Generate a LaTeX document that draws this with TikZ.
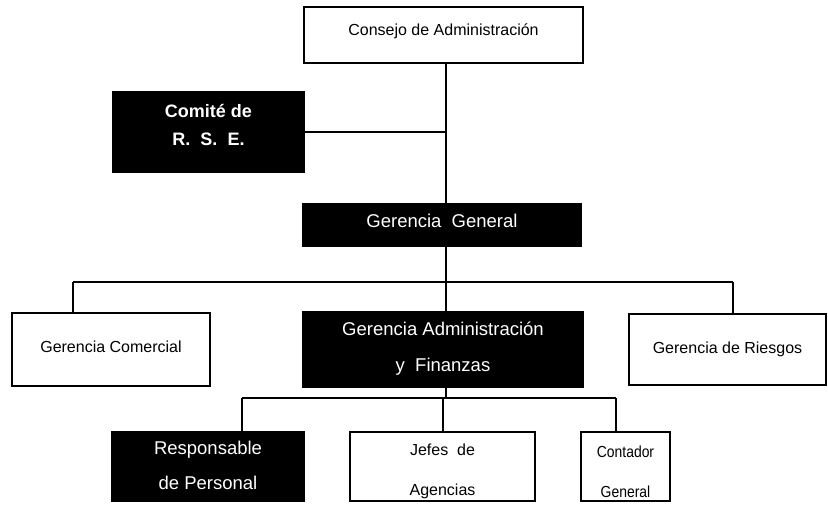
\documentclass[tikz,border=0pt]{standalone}
\usepackage{fontspec}
\setmainfont{Liberation Sans}
\newfontfamily\narrowfont[FakeStretch=0.87]{Liberation Sans}
\begin{document}
\begin{tikzpicture}[x=1pt,y=-1pt,
  box/.style={draw=black, line width=2pt, rectangle, inner sep=0pt, outer sep=0pt, anchor=north west, fill=white},
  dark/.style={box, fill=black},
  wtxt/.style={align=center, text=white, inner sep=0pt},
  btxt/.style={align=center, text=black, inner sep=0pt},
  conn/.style={line width=2pt}]
\useasboundingbox[fill=white] (0,0) rectangle (828,505);
% boxes with their texts
\node[box, minimum width=279pt, minimum height=56pt,
  label={[name=consejoT, btxt, font=\fontsize{16}{19}\selectfont, yshift=3.5pt]center:{Consejo de Administración}}] (consejo) at (304,7) {};
\node[dark, minimum width=191pt, minimum height=80pt,
  label={[name=comiteT, wtxt, font=\bfseries\fontsize{18}{28}\selectfont, yshift=7pt]center:{Comité de\\R.~~S.~~E.}}] (comite) at (113,92) {};
\node[dark, minimum width=278pt, minimum height=42pt,
  label={[name=ggT, wtxt, font=\fontsize{18.5}{22}\selectfont, yshift=4pt]center:{Gerencia~~General}}] (gg) at (303,204) {};
\node[box, minimum width=198pt, minimum height=73pt,
  label={[name=gcT, btxt, font=\fontsize{16}{19}\selectfont, yshift=2.5pt]center:{Gerencia Comercial}}] (gc) at (12,313) {};
\node[dark, minimum width=280pt, minimum height=75pt,
  label={[name=gafT, wtxt, font=\fontsize{18.5}{36}\selectfont, yshift=1pt]center:{Gerencia Administración\\y~~Finanzas}}] (gaf) at (303,312) {};
\node[box, minimum width=197pt, minimum height=71pt,
  label={[name=grT, btxt, font=\fontsize{16}{19}\selectfont]center:{Gerencia de Riesgos}}] (gr) at (629,314) {};
\node[dark, minimum width=192pt, minimum height=69pt,
  label={[name=respT, wtxt, font=\fontsize{18.5}{35}\selectfont, yshift=1.5pt]center:{Responsable\\de Personal}}] (resp) at (112,432) {};
\node[box, minimum width=185pt, minimum height=69pt,
  label={[name=jefesT, btxt, font=\fontsize{16}{40}\selectfont, yshift=-5pt]center:{Jefes~~de\\Agencias}}] (jefes) at (350,432) {};
\node[box, minimum width=89pt, minimum height=69pt,
  label={[name=contT, btxt, font=\narrowfont\fontsize{16}{40}\selectfont, yshift=-5pt]center:{Contador\\General}}] (cont) at (581,432) {};
% bus coordinates
\coordinate (spine) at (446,0);
\coordinate (busL) at (73,282);
\coordinate (busR) at (733,282);
\coordinate (lowL) at (242,398);
\coordinate (lowR) at (616,398);
% connectors
\draw[conn] (consejo.south -| spine) -- (gg.north -| spine);
\draw[conn] (comite.east) -- (comite.east -| spine);
\draw[conn] (gg.south -| spine) -- (busL -| spine);
\draw[conn] (busL) -- (busR);
\draw[conn] (busL) -- (busL |- gc.north);
\draw[conn] (busR) -- (busR |- gr.north);
\draw[conn] (busL -| spine) -- (gaf.north -| spine);
\draw[conn] (gaf.south -| spine) -- (lowL -| spine);
\draw[conn] (lowL) -- (lowR);
\draw[conn] (lowL) -- (lowL |- resp.north);
\draw[conn] (lowL -| jefes.north) -- (jefes.north);
\draw[conn] (lowR) -- (lowR |- cont.north);
\end{tikzpicture}
\end{document}
